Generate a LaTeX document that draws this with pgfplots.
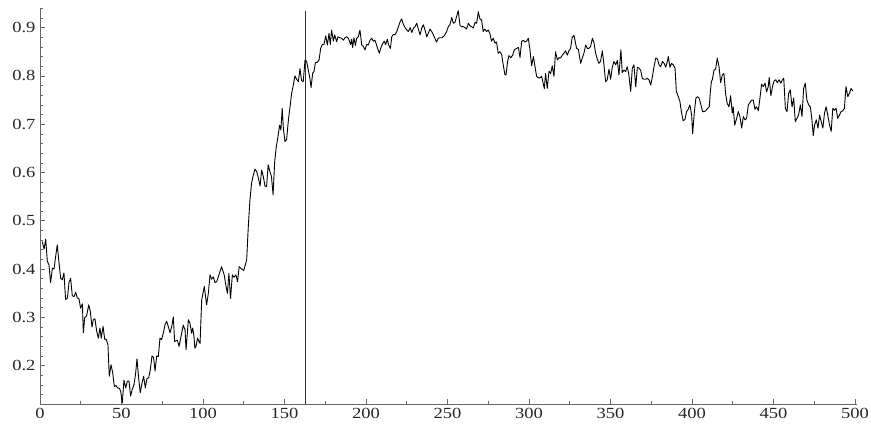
\documentclass[border=0pt]{standalone}
\usepackage{fontspec}
\setmainfont{Liberation Serif}
\newfontfamily\tickfont[FakeStretch=1.2]{Liberation Serif}
\usepackage{pgfplots}
\pgfplotsset{compat=1.18}
\pgfplotstableread{
x y
1.4 0.457
2.5 0.441
3.5 0.462
4.5 0.416
5.5 0.409
6.5 0.372
7.6 0.402
8.6 0.400
9.6 0.426
10.6 0.450
11.7 0.412
12.7 0.381
13.7 0.378
14.7 0.392
15.7 0.337
16.8 0.340
17.8 0.372
18.8 0.381
19.8 0.345
20.9 0.343
21.9 0.352
22.9 0.340
23.9 0.339
24.9 0.319
26.0 0.328
26.6 0.268
27.4 0.299
28.6 0.303
29.9 0.326
30.9 0.312
31.9 0.280
32.7 0.295
33.7 0.297
34.8 0.271
35.8 0.257
36.8 0.278
37.6 0.257
38.7 0.281
39.7 0.255
40.7 0.254
41.7 0.243
42.5 0.178
43.6 0.202
44.6 0.185
45.6 0.157
46.6 0.159
47.6 0.154
48.7 0.153
49.5 0.147
50.5 0.123
51.5 0.170
52.6 0.154
53.6 0.168
54.6 0.168
55.6 0.137
56.6 0.151
57.7 0.161
58.7 0.185
59.5 0.214
60.5 0.175
61.5 0.144
62.6 0.164
63.6 0.178
64.6 0.154
65.6 0.173
66.7 0.175
67.7 0.192
68.7 0.220
69.7 0.217
70.6 0.189
71.6 0.220
72.6 0.219
73.6 0.257
74.6 0.254
75.7 0.268
76.7 0.285
77.7 0.292
78.7 0.281
79.8 0.268
80.8 0.281
81.8 0.301
82.6 0.250
84.3 0.253
85.3 0.240
86.9 0.267
87.9 0.284
89.0 0.274
89.6 0.233
90.4 0.267
91.0 0.295
92.0 0.288
93.0 0.267
93.7 0.278
94.5 0.260
95.0 0.236
95.7 0.240
96.7 0.257
97.5 0.250
98.2 0.246
99.2 0.336
100.8 0.364
102.2 0.326
103.3 0.350
104.3 0.388
105.3 0.379
106.3 0.384
107.4 0.372
108.4 0.374
109.8 0.388
111.4 0.405
113.0 0.388
114.0 0.367
115.0 0.350
115.9 0.391
116.9 0.339
118.0 0.388
119.0 0.383
120.2 0.388
121.2 0.374
122.2 0.405
123.7 0.400
125.0 0.397
126.8 0.419
127.8 0.488
128.8 0.543
129.8 0.578
130.9 0.595
131.9 0.607
132.9 0.602
133.9 0.590
135.0 0.572
136.0 0.605
137.0 0.592
138.0 0.572
139.0 0.571
140.0 0.616
141.0 0.602
142.0 0.592
143.0 0.554
144.0 0.623
145.0 0.654
146.0 0.674
147.0 0.698
147.8 0.688
148.6 0.733
149.3 0.692
150.3 0.664
151.3 0.668
152.4 0.709
153.4 0.736
154.4 0.764
155.4 0.781
156.4 0.800
157.4 0.793
158.5 0.788
159.5 0.815
160.5 0.790
161.5 0.788
162.6 0.833
163.6 0.830
164.6 0.812
165.6 0.795
166.3 0.776
167.3 0.806
168.1 0.809
169.0 0.828
170.1 0.828
171.2 0.833
172.2 0.857
173.2 0.865
174.2 0.865
175.3 0.883
176.3 0.864
177.3 0.888
178.1 0.865
178.9 0.895
180.0 0.872
180.8 0.885
182.0 0.871
182.8 0.881
184.0 0.879
185.0 0.878
186.1 0.874
187.1 0.879
188.1 0.881
189.2 0.878
190.6 0.865
191.2 0.876
191.8 0.859
192.6 0.879
193.5 0.863
194.3 0.878
195.3 0.881
196.3 0.895
197.4 0.864
198.4 0.861
199.4 0.854
200.4 0.865
201.4 0.864
202.5 0.874
203.5 0.878
204.5 0.872
205.5 0.874
206.5 0.864
207.4 0.854
208.2 0.847
209.0 0.857
210.0 0.865
211.1 0.872
212.1 0.865
213.1 0.876
213.9 0.864
215.0 0.857
215.8 0.881
216.8 0.886
217.8 0.885
218.9 0.892
219.9 0.902
220.9 0.912
221.9 0.918
223.0 0.906
224.0 0.900
225.0 0.895
226.0 0.892
227.1 0.900
228.1 0.890
229.1 0.899
230.1 0.902
231.1 0.909
232.1 0.897
233.2 0.885
234.2 0.899
235.2 0.906
236.2 0.895
237.3 0.881
238.2 0.888
239.3 0.897
240.3 0.892
241.3 0.885
242.3 0.878
243.3 0.870
244.3 0.878
245.4 0.879
246.6 0.879
248.0 0.883
249.5 0.892
250.5 0.902
251.5 0.906
252.6 0.921
253.6 0.909
254.6 0.911
255.6 0.923
256.6 0.935
257.7 0.904
258.7 0.902
259.7 0.902
260.7 0.900
261.7 0.897
262.8 0.909
263.8 0.904
264.8 0.902
265.8 0.899
266.9 0.911
267.9 0.909
268.9 0.933
269.9 0.918
270.9 0.916
271.9 0.892
272.9 0.897
274.0 0.892
275.0 0.895
276.0 0.888
277.0 0.872
278.1 0.878
279.1 0.868
280.1 0.870
281.1 0.847
282.1 0.850
283.2 0.845
284.2 0.823
285.2 0.803
285.9 0.802
286.9 0.830
287.7 0.842
288.9 0.838
290.0 0.843
291.0 0.854
292.4 0.857
293.5 0.859
294.5 0.838
295.5 0.871
296.5 0.874
297.6 0.870
298.6 0.872
299.6 0.878
300.6 0.854
301.6 0.821
302.7 0.840
303.7 0.819
304.7 0.799
305.7 0.796
306.7 0.796
307.8 0.799
308.8 0.783
309.4 0.774
310.2 0.805
311.2 0.774
312.3 0.810
313.3 0.805
314.3 0.821
315.3 0.799
316.3 0.850
317.4 0.833
318.4 0.838
319.4 0.837
320.4 0.843
321.4 0.847
322.5 0.852
323.5 0.843
324.5 0.852
325.5 0.857
326.5 0.880
327.6 0.884
329.2 0.857
330.3 0.855
331.7 0.826
332.7 0.837
333.7 0.847
334.8 0.864
335.8 0.857
336.8 0.857
337.8 0.861
338.9 0.878
339.9 0.868
340.9 0.847
341.9 0.835
342.9 0.826
343.9 0.830
345.0 0.852
346.0 0.823
347.0 0.788
348.0 0.792
349.1 0.814
350.1 0.793
351.1 0.818
352.1 0.830
353.2 0.823
354.2 0.832
355.2 0.802
356.4 0.854
357.2 0.807
358.3 0.812
359.3 0.809
360.3 0.819
361.3 0.802
362.4 0.768
363.4 0.816
364.4 0.823
365.5 0.777
366.5 0.818
367.5 0.816
368.5 0.812
369.5 0.795
370.6 0.793
371.6 0.793
372.6 0.795
373.6 0.792
374.7 0.781
375.7 0.798
376.7 0.819
377.8 0.837
378.8 0.835
379.8 0.823
380.8 0.819
381.9 0.830
382.9 0.826
383.9 0.818
384.9 0.830
385.5 0.840
386.5 0.818
387.5 0.826
388.5 0.823
389.6 0.816
390.4 0.768
391.6 0.757
392.6 0.747
393.6 0.724
394.6 0.707
395.7 0.710
396.7 0.726
397.7 0.731
398.7 0.740
399.8 0.719
400.4 0.680
401.4 0.723
402.4 0.754
403.4 0.757
404.4 0.754
405.5 0.740
406.5 0.726
407.5 0.726
408.5 0.728
409.6 0.733
410.6 0.736
411.3 0.768
411.9 0.788
412.5 0.792
413.5 0.812
414.5 0.814
415.5 0.837
416.6 0.819
417.6 0.786
418.6 0.802
419.6 0.805
420.6 0.764
421.6 0.743
422.7 0.736
423.7 0.759
424.7 0.723
425.3 0.736
426.2 0.698
427.4 0.712
428.4 0.726
429.4 0.716
430.5 0.692
431.5 0.716
432.5 0.709
433.5 0.712
434.6 0.740
435.6 0.745
436.6 0.750
437.6 0.750
438.6 0.731
439.7 0.736
440.7 0.728
441.7 0.754
442.7 0.783
443.7 0.778
444.8 0.785
445.8 0.767
446.8 0.778
447.4 0.797
448.4 0.759
449.4 0.778
450.4 0.790
451.4 0.792
452.4 0.786
453.4 0.792
454.5 0.785
455.5 0.792
456.3 0.795
457.3 0.733
458.3 0.726
459.3 0.764
460.3 0.771
461.4 0.736
462.4 0.754
463.4 0.705
464.4 0.712
465.4 0.719
466.5 0.740
467.5 0.716
468.5 0.774
469.5 0.785
470.5 0.750
471.6 0.740
472.6 0.736
473.6 0.709
474.4 0.676
475.2 0.698
476.3 0.709
477.3 0.692
478.3 0.719
479.3 0.705
480.3 0.692
481.3 0.723
482.3 0.736
483.3 0.719
484.4 0.698
485.4 0.685
486.4 0.733
487.4 0.729
488.4 0.733
489.4 0.712
490.5 0.719
491.5 0.726
492.5 0.728
493.5 0.733
494.5 0.778
495.6 0.757
496.6 0.764
497.6 0.774
498.6 0.769
}\datatable
\begin{document}
\begin{tikzpicture}
\begin{axis}[
  name=ax,
  scale only axis,
  width=816.6bp, height=396bp,
  xmin=0, xmax=501, ymin=0.12, ymax=0.94,
  axis lines=left,
  axis line style={-, black!60, line width=0.8bp},
  xtick={0,50,100,150,200,250,300,350,400,450,500},
  minor xtick={25,75,125,175,225,275,325,375,425,475},
  ytick={0.2,0.3,0.4,0.5,0.6,0.7,0.8,0.9},
  yticklabels={0.2,0.3,0.4,0.5,0.6,0.7,0.8,0.9},
  minor ytick={0.12,0.14,0.16,0.18,0.22,0.24,0.26,0.28,0.32,0.34,0.36,0.38,0.42,0.44,0.46,0.48,0.52,0.54,0.56,0.58,0.62,0.64,0.66,0.68,0.72,0.74,0.76,0.78,0.82,0.84,0.86,0.88,0.92,0.94},
  tick align=inside,
  major tick length=5bp,
  minor tick length=3bp,
  tick style={black!60, line width=0.6bp},
  ticklabel style={font=\tickfont\fontsize{15.5}{15.5}\selectfont, text=black!85},
  yticklabel style={xshift=-1bp},
  /pgf/number format/assume math mode=true,
  clip=false,
]
\addplot[black!80, line width=1bp] coordinates {(163,0.12) (163,0.935)};
\addplot[black, line width=0.9bp, line join=round] table[x=x, y=y] {\datatable};
\end{axis}
\pgfresetboundingbox
\path (ax.south west) ++(-40bp,-21.7bp) rectangle ++(871bp,426bp);
\end{tikzpicture}
\end{document}
